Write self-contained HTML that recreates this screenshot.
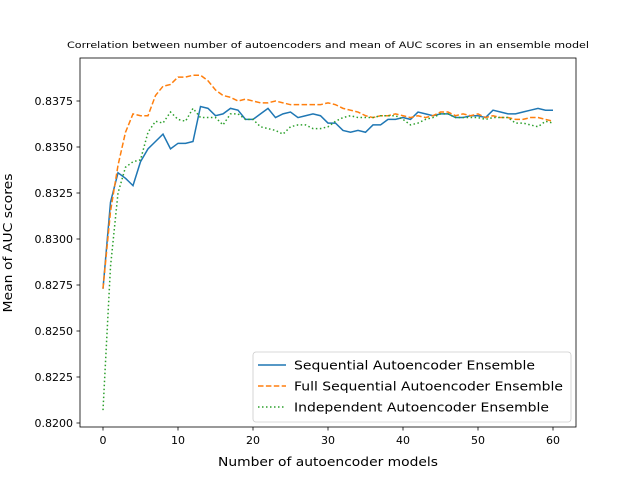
<!DOCTYPE html>
<html><head><meta charset="utf-8"><style>
body{margin:0;background:#fff}
svg{display:block;font-family:"DejaVu Sans","Liberation Sans",sans-serif}
</style></head><body>
<svg id="chart" width="640" height="480" viewBox="0 0 640 480">
<rect width="640" height="480" fill="#fff"/>
<text x="328" y="48" font-size="8.5" text-anchor="middle" textLength="522" lengthAdjust="spacingAndGlyphs">Correlation between number of autoencoders and mean of AUC scores in an ensemble model</text>
<g id="plot"></g>
<text x="328" y="466" font-size="12.5" text-anchor="middle" textLength="220" lengthAdjust="spacingAndGlyphs">Number of autoencoder models</text>
<text transform="translate(12,243) rotate(-90)" font-size="12.5" text-anchor="middle" textLength="139" lengthAdjust="spacingAndGlyphs">Mean of AUC scores</text>
</svg>
<script>
const xTicks=[0,10,20,30,40,50,60];
const yTicks=[0.8200,0.8225,0.8250,0.8275,0.8300,0.8325,0.8350,0.8375];
const seqVals=[0.8273,0.8320,0.8336,0.8333,0.8329,0.8342,0.8349,0.8353,0.8357,0.8349,0.8352,0.8352,0.8353,0.8372,0.8371,0.8367,0.8368,0.8371,0.8370,0.8365,0.8365,0.8368,0.8371,0.8366,0.8368,0.8369,0.8366,0.8367,0.8368,0.8367,0.8363,0.8363,0.8359,0.8358,0.8359,0.8358,0.8362,0.8362,0.8365,0.8365,0.8366,0.8365,0.8369,0.8368,0.8367,0.8368,0.8368,0.8366,0.8366,0.8367,0.8367,0.8366,0.8370,0.8369,0.8368,0.8368,0.8369,0.8370,0.8371,0.8370,0.8370];
const fullVals=[0.8273,0.8315,0.8340,0.8358,0.8368,0.8367,0.8367,0.8378,0.8383,0.8384,0.8388,0.8388,0.8389,0.8389,0.8386,0.8381,0.8378,0.8377,0.8375,0.8376,0.8375,0.8374,0.8374,0.8375,0.8374,0.8373,0.8373,0.8373,0.8373,0.8373,0.8374,0.8373,0.8371,0.8370,0.8369,0.8367,0.8366,0.8367,0.8367,0.8368,0.8367,0.8366,0.8367,0.8366,0.8367,0.8369,0.8369,0.8367,0.8368,0.8367,0.8368,0.8366,0.8367,0.8366,0.8366,0.8365,0.8365,0.8366,0.8366,0.8365,0.8364];
const indVals=[0.8207,0.8285,0.8325,0.8339,0.8342,0.8343,0.8358,0.8364,0.8363,0.8369,0.8365,0.8364,0.8371,0.8366,0.8366,0.8366,0.8362,0.8368,0.8368,0.8365,0.8365,0.8361,0.8360,0.8359,0.8357,0.8361,0.8362,0.8362,0.8360,0.8360,0.8361,0.8364,0.8366,0.8367,0.8366,0.8366,0.8366,0.8367,0.8367,0.8367,0.8365,0.8362,0.8363,0.8365,0.8366,0.8368,0.8368,0.8366,0.8366,0.8366,0.8366,0.8365,0.8366,0.8366,0.8366,0.8363,0.8363,0.8362,0.8361,0.8364,0.8363];
const seriesNames=["Sequential Autoencoder Ensemble","Full Sequential Autoencoder Ensemble","Independent Autoencoder Ensemble"];
const legendWidths=[241,269,255];

const NS="http://www.w3.org/2000/svg";
const L=80,R=576,T=58,B=427;
const xs=v=>103+v*7.5;
const ys=v=>423-(v-0.82)*18400;
const g=document.getElementById('plot');
function mk(t,a,p){const e=document.createElementNS(NS,t);for(const k in a)e.setAttribute(k,a[k]);(p||g).appendChild(e);return e;}
const series=[[seqVals,"#1f77b4","",'line-sequential'],[fullVals,"#ff7f0e","5.5,2.4",'line-full-sequential'],[indVals,"#2ca02c","1.5,2.5",'line-independent']];
series.forEach(([vals,c,d,n])=>{
  const p=mk('path',{d:vals.map((v,i)=>(i?'L':'M')+xs(i).toFixed(2)+','+ys(v).toFixed(2)).join(''),fill:'none',stroke:c,'stroke-width':1.5,'stroke-dasharray':d||'none'});
  
  
});
const fr=mk('rect',{x:L,y:T,width:R-L,height:B-T,fill:'none',stroke:'#000','stroke-width':0.8});


xTicks.forEach(v=>{
  const x=xs(v);
  const tk=mk('line',{x1:x,x2:x,y1:B,y2:B+3.5,stroke:'#000','stroke-width':0.8});
  
  
  const t=mk('text',{x:x,y:B+17,'font-size':11,'text-anchor':'middle'});t.textContent=v;
  
  
});
yTicks.forEach(v=>{
  const y=ys(v);
  const tk=mk('line',{x1:L-3.5,x2:L,y1:y,y2:y,stroke:'#000','stroke-width':0.8});
  
  
  const t=mk('text',{x:L-7,y:y+4,'font-size':11,'text-anchor':'end'});t.textContent=v.toFixed(4);
  
  
});
const lg=mk('g',{});


mk('rect',{x:253,y:352,width:318,height:70,rx:3,fill:'#fff','fill-opacity':0.8,stroke:'#ccc','stroke-width':0.8},lg);
series.forEach(([vals,c,d],i)=>{
  const y=365+i*21;
  const e=mk('g',{},lg);
  
  
  mk('line',{x1:258,x2:286,y1:y,y2:y,stroke:c,'stroke-width':1.5,'stroke-dasharray':d||'none'},e);
  const t=mk('text',{x:294,y:y+4.5,'font-size':12.5,textLength:legendWidths[i],lengthAdjust:'spacingAndGlyphs'},e);t.textContent=seriesNames[i];
});
</script>
</body></html>
